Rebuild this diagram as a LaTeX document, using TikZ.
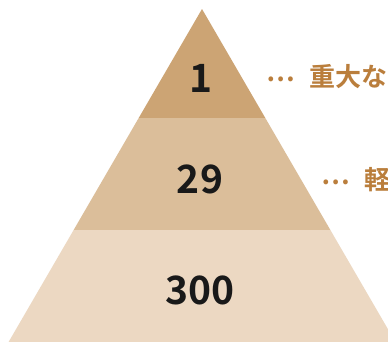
\documentclass[tikz,border=0pt]{standalone}
\usepackage{fontspec}
\newfontfamily\cjkb[BoldFont={Noto Sans CJK JP Bold}]{Noto Sans CJK JP}
\definecolor{bandA}{RGB}{204,164,116}
\definecolor{bandB}{RGB}{219,190,154}
\definecolor{bandC}{RGB}{236,216,194}
\definecolor{labelc}{RGB}{186,126,60}
\newcommand{\mydots}{\raisebox{5pt}{⋯}}
\tikzset{
  num/.style={font=\cjkb\bfseries\fontsize{39}{39}\selectfont, text=black!90, inner sep=0pt},
  lbl/.style={font=\cjkb\bfseries\fontsize{26}{26}\selectfont, text=labelc, inner sep=0pt, anchor=west}
}
\begin{document}
\begin{tikzpicture}[x=1pt,y=-1pt]
\useasboundingbox (0,0) rectangle (388,341);
\clip (0,0) rectangle (388,341);
\fill[white] (0,0) rectangle (388,341);
\begin{scope}
  \clip (202,9) -- (8,343) -- (396,343) -- cycle;
  \fill[bandA] (0,0) rectangle (400,118);
  \fill[bandB] (0,118) rectangle (400,230);
  \fill[bandC] (0,230) rectangle (400,345);
\end{scope}
\node[lbl] (l1) at (266,77) {\mydots\hspace{15pt}重大な};
\node[lbl] (l2) at (321,180) {\mydots\hspace{15pt}軽};
\node[num] (n1) at (201,78) {1};
\node[num] (n2) at (200,179) {29};
\node[num] (n3) at (200,290) {300};
\end{tikzpicture}
\end{document}
